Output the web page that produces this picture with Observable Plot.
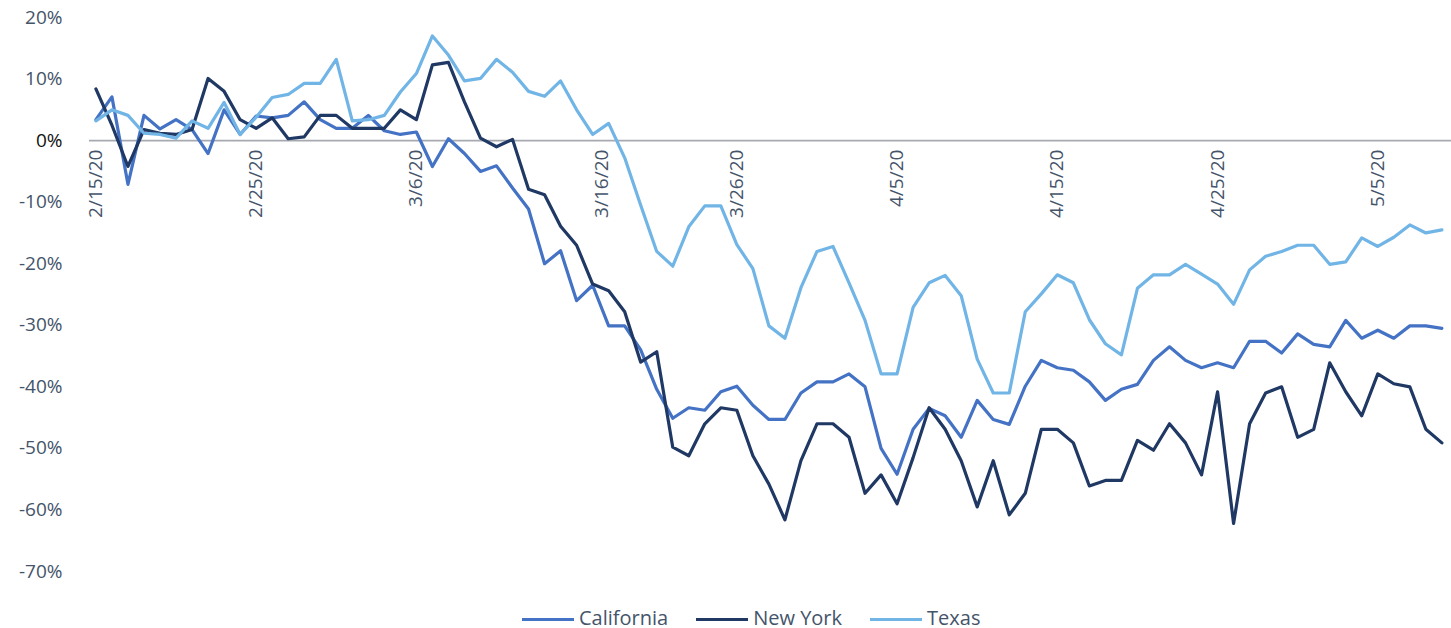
<!DOCTYPE html>
<html><head><meta charset="utf-8">
<script src="https://cdn.jsdelivr.net/npm/d3@7"></script>
<script src="https://cdn.jsdelivr.net/npm/@observablehq/plot@0.6"></script>
<style>
body{margin:0;background:#fff;font-family:"Open Sans",sans-serif;overflow:hidden;}
#chart svg{display:block;}
#legend{position:relative;box-sizing:border-box;height:32px;padding-top:11.5px;display:flex;align-items:flex-start;padding-left:522px;font-size:20px;line-height:20px;color:#44546A;}
.item{display:flex;align-items:center;margin-right:28px;height:20px;}
.sw{width:52px;height:3.5px;margin-right:5px;position:relative;top:2px;}
</style></head><body>
<div id="chart"></div>
<div id="legend"></div>
<script>
const startDate = "2020-02-15";
const seriesNames = ["California", "New York", "Texas"];
const seriesColors = ["#4472C4", "#1F3864", "#71B5E6"];
const tickLabels = ["2/15/20","2/25/20","3/6/20","3/16/20","3/26/20","4/5/20","4/15/20","4/25/20","5/5/20"];
const shiftedTickLabels = ["3/16/20"];
const yTicks = [-70,-60,-50,-40,-30,-20,-10,0,10,20];

const california = [3.4,7.1,-7.1,4.1,1.9,3.4,1.8,-2.1,5.0,1.0,
  4.0,3.7,4.1,6.3,3.4,2.0,2.0,4.1,1.6,1.0,
  1.4,-4.2,0.3,-2.1,-5.0,-4.1,-7.7,-11.1,-20.0,-17.9,
  -26.0,-23.5,-30.1,-30.1,-34.0,-40.4,-45.1,-43.4,-43.8,-40.8,
  -39.9,-43.0,-45.3,-45.3,-41.0,-39.2,-39.2,-37.9,-40.0,-50.0,
  -54.2,-46.9,-43.5,-44.7,-48.2,-42.2,-45.3,-46.1,-39.9,-35.7,
  -36.9,-37.3,-39.2,-42.2,-40.4,-39.6,-35.7,-33.5,-35.7,-36.9,
  -36.1,-36.9,-32.6,-32.6,-34.5,-31.4,-33.1,-33.5,-29.2,-32.1,
  -30.8,-32.1,-30.1,-30.1,-30.5];
const newYork = [8.4,2.5,-4.2,1.8,1.2,1.0,1.8,10.1,8.0,3.4,
  2.0,3.7,0.3,0.6,4.1,4.1,2.0,2.0,2.0,5.0,
  3.4,12.3,12.7,6.3,0.4,-1.0,0.2,-7.9,-8.8,-13.9,
  -17.0,-23.3,-24.4,-27.8,-36.0,-34.3,-49.8,-51.2,-46.0,-43.4,
  -43.8,-51.2,-55.8,-61.6,-52.0,-46.0,-46.0,-48.2,-57.3,-54.3,
  -59.0,-51.5,-43.4,-46.9,-52.0,-59.5,-52.0,-60.8,-57.3,-46.9,
  -46.9,-49.1,-56.1,-55.2,-55.2,-48.7,-50.3,-46.0,-49.1,-54.3,
  -40.8,-62.2,-46.0,-41.0,-40.0,-48.2,-46.9,-36.1,-40.8,-44.7,
  -37.9,-39.5,-40.0,-46.9,-49.1];
const texas = [3.2,5.0,4.1,1.2,1.0,0.4,3.2,2.0,6.2,1.0,
  3.8,7.0,7.5,9.3,9.3,13.2,3.2,3.4,4.1,7.9,
  10.9,17.0,13.9,9.7,10.1,13.2,11.1,8.0,7.2,9.7,
  5.0,1.0,2.8,-2.8,-10.5,-18.0,-20.4,-14.0,-10.6,-10.6,
  -16.9,-20.8,-30.1,-32.1,-23.9,-18.0,-17.2,-23.1,-29.2,-37.9,
  -37.9,-27.1,-23.1,-21.9,-25.2,-35.5,-41.0,-41.0,-27.8,-24.9,
  -21.8,-23.1,-29.1,-33.0,-34.8,-24.0,-21.8,-21.8,-20.1,-21.7,
  -23.3,-26.6,-21.0,-18.8,-18.0,-17.0,-17.0,-20.1,-19.7,-15.8,
  -17.2,-15.7,-13.7,-15.0,-14.5];

const DAY = 864e5;
const t0 = Date.parse(startDate + "T00:00:00Z");
const seriesValues = [california, newYork, texas];
const rows = [];
seriesNames.forEach((name, k) => seriesValues[k].forEach((v, i) =>
  rows.push({date: new Date(t0 + i * DAY), value: v, series: name})));
const nDays = california.length;
const parseLabel = s => { const [m, d, y] = s.split("/").map(Number); return new Date(Date.UTC(2000 + y, m - 1, d)); };
const ticks = tickLabels.filter(s => !shiftedTickLabels.includes(s)).map(s => ({date: parseLabel(s), label: s}));
const ticksShifted = shiftedTickLabels.map(s => ({date: parseLabel(s), label: s}));

const labelOpts = {x: "date", y: () => 0, text: "label", rotate: -90, textAnchor: "end",
  dy: 9, fontSize: 19, fill: "#44546A"};

const chart = Plot.plot({
  width: 1451, height: 596,
  marginLeft: 89, marginRight: 0, marginTop: 17, marginBottom: 25,
  style: {fontFamily: "'Open Sans', sans-serif", fontSize: "19px", color: "#44546A", background: "white", overflow: "visible"},
  x: {type: "utc", domain: [new Date(t0 - 0.4 * DAY), new Date(t0 + (nDays - 0.4) * DAY)], axis: null},
  y: {domain: [-70, 20], axis: null},
  color: {domain: seriesNames, range: seriesColors},
  marks: [
    Plot.ruleY([0], {stroke: "#A6AAB0", strokeWidth: 1.8}),
    Plot.axisY({ticks: yTicks, tickSize: 0, tickPadding: 27, tickFormat: d => d + "%", label: null,
      fill: d => d === 0 ? "#111" : "#44546A", fontSize: 19}),
    Plot.line(rows, {x: "date", y: "value", z: "series", stroke: "series", strokeWidth: 3.2}),
    Plot.text(ticks, labelOpts),
    Plot.text(ticksShifted, {...labelOpts, dx: 25})
  ]
});
document.getElementById("chart").appendChild(chart);

const legend = document.getElementById("legend");
seriesNames.forEach((name, k) => {
  const it = document.createElement("div"); it.className = "item";
  const sw = document.createElement("span"); sw.className = "sw"; sw.style.background = seriesColors[k];
  const tx = document.createElement("span"); tx.textContent = name;
  it.appendChild(sw); it.appendChild(tx); legend.appendChild(it);
});
</script>
</body></html>
